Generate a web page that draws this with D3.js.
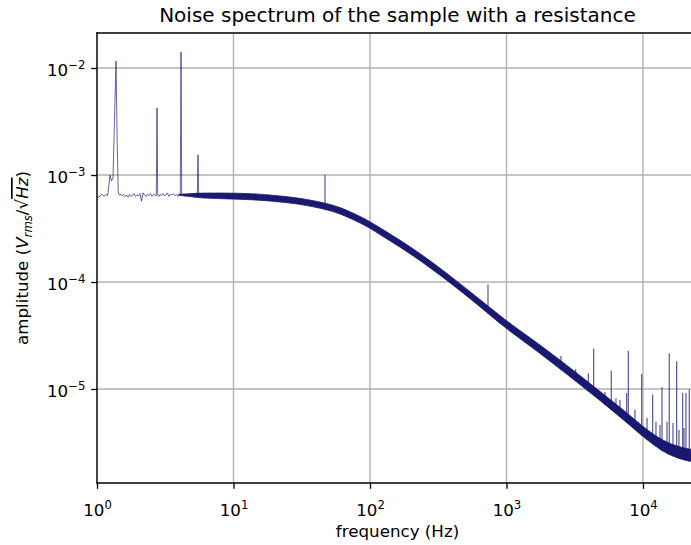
<!DOCTYPE html>
<html>
<head>
<meta charset="utf-8">
<script src="https://cdn.jsdelivr.net/npm/d3@7"></script>
<style>
  body { margin: 0; background: #fff; }
  svg { display: block; }
  text { font-family: "DejaVu Sans", sans-serif; fill: #000; }
</style>
</head>
<body>
<svg id="chart" width="691" height="545"></svg>
<script>
// low-frequency part of the trace (thin line)
const lowFreq = [1.000, 1.03, 1.052, 1.08, 1.106, 1.13, 1.164, 1.19, 1.204, 1.245, 1.277, 1.31, 1.378, 1.405, 1.43,
  1.46, 1.50, 1.525, 1.56, 1.604, 1.64, 1.687, 1.73, 1.775, 1.82, 1.867, 1.91, 1.964, 2.01, 2.065, 2.118, 2.173,
  2.23, 2.285, 2.34, 2.404, 2.46, 2.529, 2.59, 2.66, 2.719, 2.752, 2.784, 2.84, 2.894, 2.97, 3.044, 3.12, 3.202,
  3.28, 3.369, 3.45, 3.543, 3.63, 3.727, 3.82, 3.921, 4.00, 4.076, 4.124, 4.173, 4.25, 4.339, 4.45, 4.564, 4.68,
  4.801, 4.92, 5.05, 5.14, 5.224, 5.431, 5.494, 5.559, 5.68, 5.78, 6.0, 6.2, 6.5, 6.8, 7.1, 7.5, 7.9, 8.3, 8.8, 9.3, 9.9];
const lowAmp = [6.4e-4, 6.2e-4, 6.36e-4, 6.6e-4, 6.5e-4, 6.3e-4, 6.6e-4, 6.4e-4, 6.8e-4, 1.0e-3, 8.8e-4, 9.4e-4, 1.16e-2, 2.1e-3, 7.0e-4,
  6.5e-4, 6.6e-4, 6.4e-4, 6.6e-4, 6.3e-4, 6.5e-4, 6.2e-4, 6.6e-4, 6.3e-4, 6.5e-4, 6.7e-4, 6.3e-4, 6.5e-4, 6.4e-4, 6.7e-4, 5.7e-4, 6.8e-4,
  6.5e-4, 6.3e-4, 6.6e-4, 6.4e-4, 6.7e-4, 6.3e-4, 6.6e-4, 6.5e-4, 6.4e-4, 4.23e-3, 6.5e-4, 6.3e-4, 6.6e-4, 6.4e-4, 6.7e-4, 6.4e-4, 6.5e-4,
  6.8e-4, 6.3e-4, 6.6e-4, 6.5e-4, 6.7e-4, 6.4e-4, 6.6e-4, 6.3e-4, 6.7e-4, 6.5e-4, 1.41e-2, 6.6e-4, 6.4e-4, 6.7e-4, 6.3e-4, 6.6e-4, 6.4e-4,
  6.7e-4, 6.4e-4, 6.6e-4, 6.3e-4, 6.5e-4, 6.6e-4, 1.54e-3, 6.4e-4, 6.7e-4, 6.3e-4, 6.7e-4, 6.2e-4, 6.8e-4, 6.2e-4, 6.7e-4, 6.3e-4, 6.8e-4, 6.2e-4, 6.7e-4, 6.3e-4, 6.7e-4];

// dense part of the spectrum: upper / lower edge of the noise band
const bandFreq  = [4.0, 5.0, 5.7, 9.9, 15.6, 21.9, 30.7, 46.8, 60.3, 71.4, 84.5, 100, 118, 207, 367, 640, 1000, 1490, 2590, 4600, 8000, 10000, 14000, 18700, 22500, 25300];
const bandUpper = [6.58e-4, 6.72e-4, 6.78e-4, 6.79e-4, 6.65e-4, 6.37e-4, 6.09e-4, 5.49e-4, 4.99e-4, 4.54e-4, 4.12e-4, 3.66e-4, 3.23e-4, 2.07e-4, 1.21e-4, 6.86e-5, 4.32e-5, 3.02e-5, 1.79e-5, 1.0e-5, 5.71e-6, 4.44e-6, 3.25e-6, 2.86e-6, 2.72e-6, 2.67e-6];
const bandLower = [6.46e-4, 6.25e-4, 6.09e-4, 5.96e-4, 5.84e-4, 5.6e-4, 5.35e-4, 4.80e-4, 4.35e-4, 3.94e-4, 3.58e-4, 3.18e-4, 2.78e-4, 1.78e-4, 1.04e-4, 5.9e-5, 3.63e-5, 2.54e-5, 1.47e-5, 8.26e-6, 4.61e-6, 3.58e-6, 2.57e-6, 2.21e-6, 2.1e-6, 2.06e-6];

// narrow lines sticking out of the band
const spikeFreq = [46.8, 732, 2506, 3214, 3975, 4353, 5267, 5858, 6341, 6785, 7597, 7805, 8738, 9784, 10700, 11780, 12450,
  13320, 13780, 14990, 15580, 16590, 17660, 18350, 19540, 19970, 20650, 21830];
const spikePeak = [1.0e-3, 9.5e-5, 2.03e-5, 1.54e-5, 1.40e-5, 2.38e-5, 9.4e-6, 1.48e-5, 8.2e-6, 7.9e-6, 9.2e-6, 2.28e-5, 6.4e-6, 1.38e-5, 5.36e-6, 8.9e-6, 4.95e-6,
  4.61e-6, 1.04e-5, 4.95e-6, 2.16e-5, 4.81e-6, 1.82e-5, 4.14e-6, 9.2e-6, 4.33e-6, 9.2e-6, 9.9e-6];

const xTicks = [1, 10, 100, 1000, 10000];
const yTicks = [1e-2, 1e-3, 1e-4, 1e-5];

const margin = { top: 33, left: 97 };
const width = 601, height = 450;
const color = "#191970";

const svg = d3.select("#chart");
const g = svg.append("g").attr("transform", `translate(${margin.left},${margin.top})`);

const x = d3.scaleLog().domain([1, 25300]).range([0, width]);
const y = d3.scaleLog().domain([1.323e-6, 0.02124]).range([height, 0]);

svg.append("defs").append("clipPath").attr("id", "plot")
  .append("rect").attr("width", width).attr("height", height);

// grid
g.selectAll(".gx").data(xTicks).enter().append("line")
  .attr("x1", d => x(d)).attr("x2", d => x(d)).attr("y1", 0).attr("y2", height)
  .attr("stroke", "#b0b0b0").attr("stroke-width", 1.33);
g.selectAll(".gy").data(yTicks).enter().append("line")
  .attr("y1", d => y(d)).attr("y2", d => y(d)).attr("x1", 0).attr("x2", width)
  .attr("stroke", "#b0b0b0").attr("stroke-width", 1.33);

const plot = g.append("g").attr("clip-path", "url(#plot)");

// lower edge of the band at a frequency (log-log between listed points)
function lowerAt(f) {
  const i = Math.max(1, d3.bisectLeft(bandFreq, f));
  const t = (Math.log(f) - Math.log(bandFreq[i - 1])) / (Math.log(bandFreq[i]) - Math.log(bandFreq[i - 1]));
  return Math.exp(Math.log(bandLower[i - 1]) + t * (Math.log(bandLower[i]) - Math.log(bandLower[i - 1])));
}

// thin low-frequency trace
const line = d3.line().x(d => x(d[0])).y(d => y(d[1]));
plot.append("path")
  .datum(d3.zip(lowFreq, lowAmp))
  .attr("fill", "none").attr("stroke", color).attr("stroke-width", 0.9).attr("stroke-opacity", 0.75)
  .attr("d", line);

// noise band
const area = d3.area()
  .x(d => x(d[0])).y0(d => y(d[2])).y1(d => y(d[1]))
  .curve(d3.curveBasis);
plot.append("path")
  .datum(d3.zip(bandFreq, bandUpper, bandLower))
  .attr("fill", color).attr("stroke", color).attr("stroke-width", 0.8)
  .attr("d", area);

// spikes
plot.selectAll(".spike").data(d3.zip(spikeFreq, spikePeak)).enter().append("line")
  .attr("x1", d => x(d[0])).attr("x2", d => x(d[0]))
  .attr("y1", d => y(d[1])).attr("y2", d => y(lowerAt(d[0])))
  .attr("stroke", color).attr("stroke-width", 1.1).attr("stroke-opacity", 0.8);

// axes
function powLabel(sel, exp) {
  sel.text(null);
  sel.append("tspan").text("10");
  sel.append("tspan").attr("dy", -7).attr("font-size", "11.7px")
    .text(exp < 0 ? "\u2212" + (-exp) : String(exp));
}

const xAxis = g.append("g").attr("transform", `translate(0,${height})`)
  .call(d3.axisBottom(x).tickValues(xTicks).tickSize(5.8).tickSizeOuter(0));
xAxis.select(".domain").remove();
xAxis.selectAll("line").attr("stroke", "#000").attr("stroke-width", 1.33);
xAxis.selectAll("text")
  .attr("y", 33).attr("dy", 0).attr("font-size", "16.7px").attr("font-family", "DejaVu Sans")
  .each(function(d) { powLabel(d3.select(this), Math.round(Math.log10(d))); });

const yAxis = g.append("g")
  .call(d3.axisLeft(y).tickValues(yTicks).tickSize(5.8).tickSizeOuter(0));
yAxis.select(".domain").remove();
yAxis.selectAll("line").attr("stroke", "#000").attr("stroke-width", 1.33);
yAxis.selectAll("text")
  .attr("x", -11.6).attr("dy", 7).attr("font-size", "16.7px").attr("font-family", "DejaVu Sans")
  .each(function(d) { powLabel(d3.select(this), Math.round(Math.log10(d))); });

// spines
g.append("line").attr("x1", 0).attr("x2", 0).attr("y1", 0).attr("y2", height)
  .attr("stroke", "#000").attr("stroke-width", 1.33).attr("stroke-linecap", "square");
g.append("line").attr("x1", 0).attr("x2", width).attr("y1", height).attr("y2", height)
  .attr("stroke", "#000").attr("stroke-width", 1.33).attr("stroke-linecap", "square");
g.append("line").attr("x1", 0).attr("x2", width).attr("y1", 0).attr("y2", 0)
  .attr("stroke", "#000").attr("stroke-width", 1.33).attr("stroke-linecap", "square");
g.append("line").attr("x1", width).attr("x2", width).attr("y1", 0).attr("y2", height)
  .attr("stroke", "#000").attr("stroke-width", 1.33);

// title and labels
svg.append("text").attr("x", margin.left + width / 2).attr("y", 22)
  .attr("text-anchor", "middle").attr("font-size", "20px")
  .text("Noise spectrum of the sample with a resistance");

svg.append("text").attr("x", margin.left + width / 2).attr("y", 537)
  .attr("text-anchor", "middle").attr("font-size", "16.7px")
  .text("frequency (Hz)");

const yl = svg.append("text")
  .attr("transform", `translate(28,${margin.top + height / 2}) rotate(-90)`)
  .attr("text-anchor", "middle").attr("font-size", "16.7px");
yl.append("tspan").text("amplitude (");
yl.append("tspan").attr("font-style", "italic").text("V");
yl.append("tspan").attr("font-style", "italic").attr("font-size", "11.7px").attr("dy", 4).text("rms");
yl.append("tspan").attr("dy", -4).text("/\u221A");
yl.append("tspan").attr("font-style", "italic").style("text-decoration", "overline").text("Hz");
yl.append("tspan").text(")");
</script>
</body>
</html>
